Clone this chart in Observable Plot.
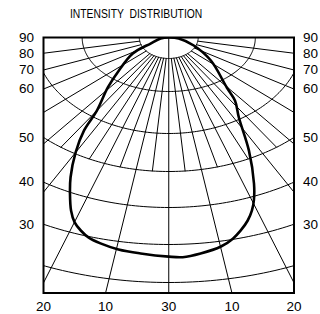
<!DOCTYPE html>
<html><head><meta charset="utf-8">
<script src="https://cdn.jsdelivr.net/npm/d3@7"></script>
<script src="https://cdn.jsdelivr.net/npm/@observablehq/plot@0.6"></script>
<style>
body{margin:0;background:#fff;}
#title{height:24px;box-sizing:border-box;padding:8px 0 0 70px;font:12px "Liberation Sans",Arial,sans-serif;line-height:12px;white-space:pre;color:#000;}
#title span{display:inline-block;transform:scaleX(0.86);transform-origin:0 0;}
</style></head><body>
<div id="title"><span>INTENSITY  DISTRIBUTION</span></div>
<div id="chart"></div>
<script>
// ---------- data ----------
// intensity curve: C-plane angle (deg, negative = left) and vertical angle gamma (deg)
const curveC =     [-90, -80, -65, -58, -47, -41, -35, -33, -30, -26.6, -24.3, -21.9, -19.95, -18.0, -15.9, -13.3, -9.6, -5.3, 0, 2.6, 6.0, 10.1, 12.8, 14.9, 17.1, 18.9, 20.4, 22.6, 26.8, 32.0, 36.8, 39.6, 52.5, 65.9, 82];
const curveGamma = [ 90, 87.2, 83.2, 77.2, 71.6, 67.1, 61.6, 56.1, 50.3, 43.8, 39.7, 35.5, 32.8, 31.1, 29.7, 28.8, 27.9, 27.4, 26.8, 26.6, 27.3, 28.6, 30.2, 32.0, 34.2, 36.5, 38.9, 43.3, 51.9, 60.4, 64.1, 67.4, 74.9, 80.7, 86.6];

// grid
const parallelGammas = [80, 70, 60, 50, 40, 30, 20];
const meridianAngles = [-80, -70, -60, -50, -40, -30, -20, -10, 10, 20, 30, 40, 50, 60, 70, 80];
const fineMeridianAngles = [-35, -25, -15, -5, 5, 15, 25, 35];

// tick labels
const sideMeridianLabels = ["90", "80", "70", "60"];
const sideMeridianAngles = [90, 80, 70, 60];
const sideParallelLabels = ["50", "40", "30"];
const sideParallelGammas = [50, 40, 30];
const bottomLabels = ["20", "10", "30", "10", "20"];
const bottomAngles = [-20, -10, 0, 10, 20];

// ---------- diagram geometry (projection of the grid) ----------
const gammaStops = [90, 80, 70, 60, 50, 40, 30, 20];
const depthStops = [0, 21, 54, 96, 134, 170, 207, 245];
const depth = d3.scaleLinear().domain(gammaStops).range(depthStops);
const K = 1.4;                 // horizontal stretch of the projection
const stretch = g => (g === 70 ? 1.6 : K);
const HALF_W = 125, FULL_H = 255.5;
const rad = a => a * Math.PI / 180;
const polar = (c, r, k = K) => ({x: k * r * Math.sin(rad(c)), y: r * Math.cos(rad(c))});

// parallels
const parallels = [];
for (const g of parallelGammas) {
  for (let c = -90; c <= 90; c += 1) parallels.push({...polar(c, depth(g), stretch(g)), id: g});
}
// meridians
const meridians = [];
for (const c of meridianAngles) {
  meridians.push({...polar(c, depth(80)), id: c}, {...polar(c, 2000), id: c});
}
meridians.push({...polar(0, 0), id: 0}, {...polar(0, 2000), id: 0});
for (const c of fineMeridianAngles) {
  meridians.push({...polar(c, depth(80)), id: "f" + c}, {...polar(c, depth(50)), id: "f" + c});
}
// curve
const curve = curveC.map((c, i) => polar(c, depth(curveGamma[i])));

// labels
const sideLabels = [];
sideMeridianAngles.forEach((a, i) => {
  const y = a === 90 ? 0 : HALF_W / (K * Math.tan(rad(a)));
  sideLabels.push({x: -HALF_W, y, text: sideMeridianLabels[i], side: "L"}, {x: HALF_W, y, text: sideMeridianLabels[i], side: "R"});
});
sideParallelGammas.forEach((g, i) => {
  const r = depth(g), u = HALF_W / stretch(g);
  const y = Math.sqrt(r * r - u * u);
  sideLabels.push({x: -HALF_W, y, text: sideParallelLabels[i], side: "L"}, {x: HALF_W, y, text: sideParallelLabels[i], side: "R"});
});
const botLabels = bottomAngles.map((a, i) => ({
  x: Math.max(-HALF_W, Math.min(HALF_W, K * FULL_H * Math.tan(rad(a)))),
  y: FULL_H, text: bottomLabels[i]
}));

const font = "Liberation Sans, Arial, sans-serif";
const chart = Plot.plot({
  width: 320, height: 290,
  marginLeft: 43, marginRight: 26.5, marginTop: 13, marginBottom: 21.5,
  x: {domain: [-HALF_W, HALF_W], axis: null},
  y: {domain: [0, FULL_H], reverse: true, axis: null},
  style: {background: "white", fontFamily: font, overflow: "visible"},
  marks: [
    Plot.line(parallels, {x: "x", y: "y", z: "id", stroke: "black", strokeWidth: 1, clip: true}),
    Plot.line(meridians, {x: "x", y: "y", z: "id", stroke: "black", strokeWidth: 1, clip: true}),
    Plot.line(curve, {x: "x", y: "y", stroke: "black", strokeWidth: 2.6, curve: "catmull-rom-closed", clip: true}),
    Plot.frame({stroke: "black", strokeWidth: 2}),
    Plot.text(sideLabels.filter(d => d.side === "L"), {x: "x", y: "y", text: "text", textAnchor: "end", dx: -9.5, fontSize: 13.5, fontFamily: font, fill: "black"}),
    Plot.text(sideLabels.filter(d => d.side === "R"), {x: "x", y: "y", text: "text", textAnchor: "start", dx: 9, fontSize: 13.5, fontFamily: font, fill: "black"}),
    Plot.text(botLabels, {x: "x", y: "y", text: "text", dy: 14, fontSize: 13.5, fontFamily: font, fill: "black"})
  ]
});
document.getElementById("chart").appendChild(chart);
</script>
</body></html>
